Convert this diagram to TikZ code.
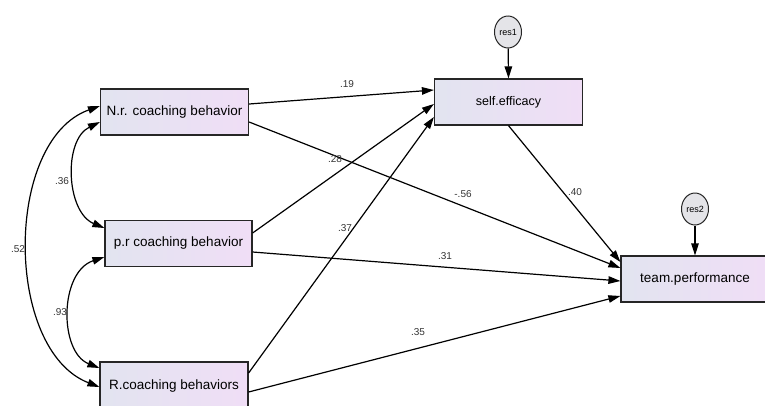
\documentclass[tikz,border=0pt]{standalone}
\usepackage{fontspec}
\setmainfont{Liberation Sans}
\usetikzlibrary{arrows.meta,shapes.geometric}
\definecolor{boxL}{RGB}{226,228,240}
\definecolor{boxR}{RGB}{240,222,246}
\definecolor{resfill}{RGB}{228,228,232}
\tikzset{
  varbox/.style={draw=black!85,line width=1.2pt,left color=boxL,right color=boxR,
    minimum width=148pt,minimum height=46pt,inner sep=0pt,font=\fontsize{13.5}{15}\selectfont},
  resnode/.style={draw=black!85,line width=1pt,ellipse,fill=resfill,minimum width=27pt,
    minimum height=32pt,inner sep=0pt,font=\fontsize{9}{10}\selectfont},
  path/.style={line width=1.2pt,-{Triangle[length=12pt,width=7.5pt]}},
  cov/.style={line width=1.2pt,{Triangle[length=12pt,width=7.5pt]}-{Triangle[length=12pt,width=7.5pt]}},
  coef/.style={font=\fontsize{10}{11}\selectfont,inner sep=1pt,text=black!80}
}
\begin{document}
\begin{tikzpicture}[x=1pt,y=-1pt]
\useasboundingbox (0,0) rectangle (765,405);
\node[varbox] (nr) at (174.5,112) {N.r. coaching behavior};
\node[varbox,minimum width=147pt] (pr) at (178.5,243.5) {p.r coaching behavior};
\node[varbox,minimum height=48pt] (rc) at (174,386) {R.coaching behaviors};
\node[varbox,font=\fontsize{12.5}{14}\selectfont] (se) at (508.5,102) {self.efficacy};
\node[varbox] (tp) at (695,279) {team.performance};
\node[resnode] (r1) at (508,32) {res1};
\node[resnode] (r2) at (695,209) {res2};
% residual arrows
\draw[path] (r1) -- (se.north);
\draw[path] (r2) -- (tp.north);
% paths to self efficacy
\draw[path] ([yshift=8pt]nr.east) -- ([yshift=12pt]se.west);
\draw[path] ([yshift=10.5pt]pr.east) -- ([yshift=-2pt]se.west);
\draw[path] ([yshift=13pt]rc.east) -- ([yshift=-15pt]se.west);
% paths to team performance
\draw[path] (se.south) -- ([yshift=17pt]tp.west);
\draw[path] ([yshift=-10pt]nr.east) -- ([yshift=11pt]tp.west);
\draw[path] ([yshift=-8.5pt]pr.east) -- ([yshift=-2pt]tp.west);
\draw[path] ([yshift=-6pt]rc.east) -- ([yshift=-17pt]tp.west);
% covariances
\draw[cov] ([yshift=-10pt]nr.west) .. controls (63,140) and (66,212) .. ([yshift=15.5pt]pr.west);
\draw[cov] ([yshift=-13.5pt]pr.west) .. controls (59,272) and (59,352) .. ([yshift=18pt]rc.west);
\draw[cov] ([yshift=6pt]nr.west) .. controls (4,140) and (4,350) .. ([yshift=-1pt]rc.west);
% coefficients
\node[coef] (c36) at (62,181) {.36};
\node[coef] (c93) at (60,312) {.93};
\node[coef] (c52) at (18,249) {.52};
\node[coef] (c19) at (347,84) {.19};
\node[coef] (c28) at (335,159) {.28};
\node[coef] (c56) at (463,194) {-.56};
\node[coef] (c37) at (345,228) {.37};
\node[coef] (c31) at (445,256) {.31};
\node[coef] (c35) at (418,332) {.35};
\node[coef] (c40) at (575,192) {.40};
\end{tikzpicture}
\end{document}
